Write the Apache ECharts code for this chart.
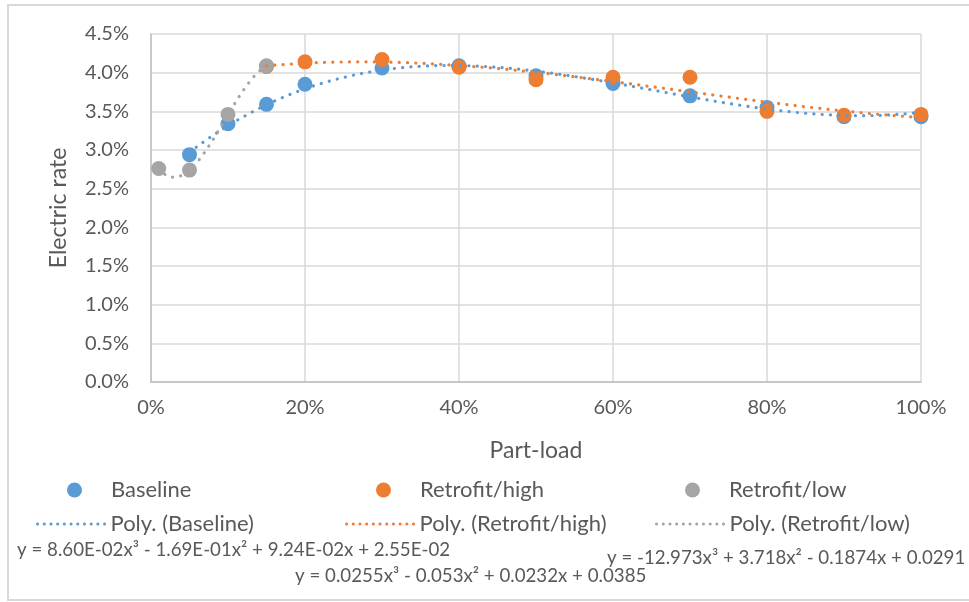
<!DOCTYPE html>
<html>
<head>
<meta charset="utf-8">
<title>Electric rate vs part-load</title>
<script src="https://cdn.jsdelivr.net/npm/echarts@6/dist/echarts.min.js"></script>
<style>
  html, body { margin: 0; padding: 0; background: #ffffff; }
  #chart { width: 969px; height: 602px; }
</style>
</head>
<body>
<div id="chart"></div>
<script>
// Measured points (part-load fraction, electric rate fraction)
const baselineLoad = [0.05, 0.10, 0.15, 0.20, 0.30, 0.40, 0.50, 0.60, 0.70, 0.80, 0.90, 1.00];
const baselineRate = [0.0294, 0.0334, 0.0359, 0.0385, 0.0406, 0.0409, 0.0396, 0.0386, 0.0370, 0.0355, 0.0343, 0.0343];

const highLoad = [0.15, 0.20, 0.30, 0.40, 0.50, 0.60, 0.70, 0.80, 0.90, 1.00];
const highRate = [0.0408, 0.0414, 0.0417, 0.0407, 0.0391, 0.0394, 0.0394, 0.0350, 0.0345, 0.0346];

const lowLoad = [0.01, 0.05, 0.10, 0.15];
const lowRate = [0.0276, 0.0274, 0.0346, 0.0409];

// Cubic trendline coefficients [x^3, x^2, x, constant], as printed under the chart
const baselineCoef = [8.60e-02, -1.69e-01, 9.24e-02, 2.55e-02];
const highCoef = [0.0255, -0.053, 0.0232, 0.0385];
const lowCoef = [-12.973, 3.718, -0.1874, 0.0291];

const baselineEq = 'y = 8.60E-02x³ - 1.69E-01x² + 9.24E-02x + 2.55E-02';
const highEq = 'y = 0.0255x³ - 0.053x² + 0.0232x + 0.0385';
const lowEq = 'y = -12.973x³ + 3.718x² - 0.1874x + 0.0291';

// Axis ticks
const xTicks = { min: 0, max: 1, step: 0.2 };
const yTicks = { min: 0, max: 0.045, step: 0.005 };

const BLUE = '#5B9BD5', ORANGE = '#ED7D31', GRAY = '#A5A5A5', TEXT = '#595959';
const FONT = 'Lato, "Open Sans", sans-serif';

function pairs(xs, ys) { return xs.map((x, i) => [x, ys[i]]); }

// Trendline curve over the measured load range of a series
function trend(coef, from, to) {
  const pts = [];
  const n = 120;
  for (let i = 0; i <= n; i++) {
    const x = from + (to - from) * i / n;
    pts.push([x, ((coef[0] * x + coef[1]) * x + coef[2]) * x + coef[3]]);
  }
  return pts;
}

const dotted = (color) => ({ color: color, width: 3.2, type: [0.1, 8.2], cap: 'round' });

function scatter(name, color, data) {
  return { name: name, type: 'scatter', data: data, symbol: 'circle', symbolSize: 15,
           itemStyle: { color: color, opacity: 1 }, z: 2 };
}
function trendSeries(name, color, data) {
  return { name: name, type: 'line', data: data, showSymbol: false, symbol: 'none',
           smooth: false, lineStyle: dotted(color), itemStyle: { color: color }, z: 3, silent: true };
}

function legendItem(name, left, top, isLine) {
  const item = {
    data: [name], left: left, top: top, orient: 'horizontal',
    icon: isLine ? 'inherit' : 'circle',
    itemWidth: isLine ? 68 : 15, itemHeight: 15,
    textStyle: { color: TEXT, fontFamily: FONT, fontSize: 22, padding: [0, 0, 0, isLine ? 0 : 24] },
    selectedMode: false
  };
  if (isLine) {
    // the trend legend shows only the dotted stroke, no marker
    item.lineStyle = { width: 3, type: [0.1, 6.6], cap: 'round' };
    item.itemStyle = { opacity: 0 };
  }
  return item;
}

const chart = echarts.init(document.getElementById('chart'), null, { renderer: 'canvas' });

chart.setOption({
  backgroundColor: '#ffffff',
  animation: false,
  grid: { left: 151, right: 48, top: 34, bottom: 220, containLabel: false },
  xAxis: {
    type: 'value', min: xTicks.min, max: xTicks.max, interval: xTicks.step,
    name: 'Part-load', nameLocation: 'middle', nameGap: 57,
    nameTextStyle: { color: TEXT, fontFamily: FONT, fontSize: 23 },
    axisLine: { show: true, lineStyle: { color: '#BFBFBF', width: 1.5 } },
    axisTick: { show: false },
    axisLabel: { color: TEXT, fontFamily: FONT, fontSize: 20, margin: 16,
                 formatter: (v) => Math.round(v * 100) + '%' },
    splitLine: { show: true, lineStyle: { color: '#D9D9D9', width: 1.5 } }
  },
  yAxis: {
    type: 'value', min: yTicks.min, max: yTicks.max, interval: yTicks.step,
    name: 'Electric rate', nameLocation: 'middle', nameGap: 81,
    nameTextStyle: { color: TEXT, fontFamily: FONT, fontSize: 23 },
    axisLine: { show: true, lineStyle: { color: '#BFBFBF', width: 1.5 } },
    axisTick: { show: false },
    axisLabel: { color: TEXT, fontFamily: FONT, fontSize: 20, margin: 22,
                 formatter: (v) => (v * 100).toFixed(1) + '%' },
    splitLine: { show: true, lineStyle: { color: '#D9D9D9', width: 1.5 } }
  },
  legend: [
    legendItem('Baseline', 62, 474, false),
    legendItem('Retrofit/high', 371, 474, false),
    legendItem('Retrofit/low', 680, 474, false),
    legendItem('Poly. (Baseline)', 31, 508, true),
    legendItem('Poly. (Retrofit/high)', 340, 508, true),
    legendItem('Poly. (Retrofit/low)', 650, 508, true)
  ],
  graphic: [
    { type: 'rect', shape: { x: 8, y: 5, width: 975, height: 595 }, silent: true,
      style: { fill: 'none', stroke: '#D9D9D9', lineWidth: 2 } },
    { type: 'text', left: 17, top: 540, silent: true,
      style: { text: baselineEq, fill: TEXT, font: '18.7px ' + FONT } },
    { type: 'text', left: 295, top: 566, silent: true,
      style: { text: highEq, fill: TEXT, font: '18.7px ' + FONT } },
    { type: 'text', left: 607, top: 548, silent: true,
      style: { text: lowEq, fill: TEXT, font: '18.7px ' + FONT } }
  ],
  series: [
    scatter('Baseline', BLUE, pairs(baselineLoad, baselineRate)),
    scatter('Retrofit/high', ORANGE, pairs(highLoad, highRate)),
    scatter('Retrofit/low', GRAY, pairs(lowLoad, lowRate)),
    trendSeries('Poly. (Baseline)', BLUE, trend(baselineCoef, baselineLoad[0], baselineLoad[baselineLoad.length - 1])),
    trendSeries('Poly. (Retrofit/high)', ORANGE, trend(highCoef, highLoad[0], highLoad[highLoad.length - 1])),
    trendSeries('Poly. (Retrofit/low)', GRAY, trend(lowCoef, lowLoad[0], lowLoad[lowLoad.length - 1]))
  ]
});
</script>
</body>
</html>
